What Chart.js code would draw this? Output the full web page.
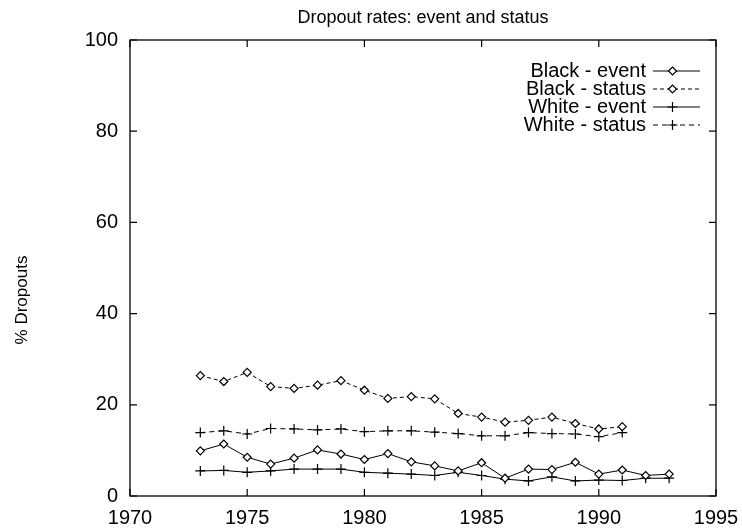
<!DOCTYPE html>
<html>
<head>
<meta charset="utf-8">
<script src="https://cdn.jsdelivr.net/npm/chart.js@4.4.1/dist/chart.umd.min.js"></script>
<style>
  html, body { margin: 0; padding: 0; background: #fff; }
  #wrap { width: 742px; height: 531px; }
</style>
</head>
<body>
<div id="wrap"><canvas id="c" width="742" height="531"></canvas></div>
<script>
const years = [1973,1974,1975,1976,1977,1978,1979,1980,1981,1982,1983,1984,1985,1986,1987,1988,1989,1990,1991,1992,1993];
const blackEvent  = [9.9,11.4,8.5,7.0,8.3,10.1,9.2,8.0,9.3,7.5,6.6,5.5,7.3,3.9,5.9,5.8,7.4,4.8,5.7,4.5,4.8];
const blackStatus = [26.4,25.1,27.1,24.0,23.6,24.3,25.3,23.2,21.4,21.8,21.3,18.1,17.3,16.2,16.6,17.3,15.9,14.7,15.2];
const whiteEvent  = [5.5,5.6,5.2,5.5,5.9,5.9,5.9,5.2,5.0,4.8,4.5,5.2,4.5,3.7,3.3,4.2,3.3,3.5,3.4,3.9,3.9];
const whiteStatus = [13.9,14.3,13.6,14.8,14.7,14.5,14.7,14.1,14.3,14.3,14.0,13.7,13.2,13.2,13.9,13.7,13.6,13.0,13.9];
const seriesNames = ['Black - event','Black - status','White - event','White - status'];
const xTicks = [1970,1975,1980,1985,1990,1995];
const yTicks = [0,20,40,60,80,100];
const titleText = 'Dropout rates: event and status';
const yTitleText = '% Dropouts';

const FONT = "'Liberation Sans', Arial, Helvetica, sans-serif";

function pts(vals){ return vals.map((v,i)=>({x:years[i], y:v})); }

const styles = [
  {pointStyle:'rectRot', dash:[], radius:4},
  {pointStyle:'rectRot', dash:[4,3], radius:4},
  {pointStyle:'cross', dash:[], radius:5},
  {pointStyle:'cross', dash:[5,4], radius:5}
];
const allVals = [blackEvent, blackStatus, whiteEvent, whiteStatus];

const datasets = allVals.map((vals,i)=>({
  label: seriesNames[i],
  data: pts(vals),
  borderColor:'#000',
  backgroundColor:'#fff',
  borderWidth:1,
  borderDash: styles[i].dash,
  pointStyle: styles[i].pointStyle,
  pointRadius: styles[i].radius,
  pointBorderColor:'#000',
  pointBackgroundColor:'#fff',
  pointBorderWidth:1.2,
  tension:0,
  fill:false
}));

const framePlugin = {
  id:'frame',
  afterDraw(chart){
    const {ctx, chartArea:a, scales:{x,y}} = chart;
    ctx.save();
    ctx.strokeStyle='#000';
    ctx.lineWidth=1.3;
    ctx.setLineDash([]);
    ctx.strokeRect(a.left, a.top, a.right-a.left, a.bottom-a.top);
    ctx.lineWidth=1.2;
    const L=7;
    xTicks.forEach(v=>{
      const px = x.getPixelForValue(v);
      ctx.beginPath();
      ctx.moveTo(px, a.bottom); ctx.lineTo(px, a.bottom-L);
      ctx.moveTo(px, a.top); ctx.lineTo(px, a.top+L);
      ctx.stroke();
    });
    yTicks.forEach(v=>{
      const py = y.getPixelForValue(v);
      ctx.beginPath();
      ctx.moveTo(a.left, py); ctx.lineTo(a.left+L, py);
      ctx.moveTo(a.right, py); ctx.lineTo(a.right-L, py);
      ctx.stroke();
    });
    ctx.fillStyle='#000';
    ctx.font = "18px " + FONT;
    ctx.textAlign='center';
    ctx.textBaseline='middle';
    ctx.fillText(titleText, (a.left+a.right)/2, 18);
    ctx.save();
    ctx.translate(22, 300);
    ctx.rotate(-Math.PI/2);
    ctx.font = "17px " + FONT;
    ctx.fillText(yTitleText, 0, 0);
    ctx.restore();
    ctx.font = "20px " + FONT;
    ctx.textAlign='right';
    ctx.textBaseline='middle';
    const ly0 = 71, dy = 18;
    const textRight = a.right - 70, s0 = a.right - 63, s1 = a.right - 16;
    chart.data.datasets.forEach((ds,i)=>{
      const yy = ly0 + i*dy;
      ctx.fillText(ds.label, textRight, yy);
      ctx.save();
      ctx.lineWidth=1;
      ctx.setLineDash(ds.borderDash);
      ctx.beginPath(); ctx.moveTo(s0, yy); ctx.lineTo(s1, yy); ctx.stroke();
      ctx.restore();
      const mx = (s0+s1)/2 - 4;
      ctx.save();
      ctx.fillStyle='#fff'; ctx.strokeStyle='#000'; ctx.lineWidth=1.2;
      Chart.helpers.drawPoint(ctx, {pointStyle: ds.pointStyle, radius: ds.pointRadius, rotation:0, borderWidth:1.2}, mx, yy);
      ctx.restore();
    });
    ctx.restore();
  }
};

new Chart(document.getElementById('c'), {
  type:'line',
  data:{ datasets },
  options:{
    responsive:false,
    animation:false,
    devicePixelRatio:1,
    layout:{ padding:{ left:0, right:26, top:40, bottom:0 } },
    plugins:{
      legend:{ display:false },
      tooltip:{ enabled:false },
      title:{ display:false }
    },
    scales:{
      x:{
        type:'linear',
        min:1970, max:1995,
        afterBuildTicks(s){ s.ticks = xTicks.map(v=>({value:v})); },
        afterFit(s){ s.height = 35; s.paddingLeft = 0; s.paddingRight = 0; },
        grid:{ display:false, drawTicks:false },
        border:{ display:false },
        ticks:{ color:'#000', font:{ family:FONT, size:20 }, padding:10, maxRotation:0,
                callback:(v)=>String(v) }
      },
      y:{
        min:0, max:100,
        afterBuildTicks(s){ s.ticks = yTicks.map(v=>({value:v})); },
        afterFit(s){ s.width = 130; s.paddingTop = 0; s.paddingBottom = 0; },
        grid:{ display:false, drawTicks:false },
        border:{ display:false },
        ticks:{ color:'#000', font:{ family:FONT, size:20 }, padding:12 }
      }
    }
  },
  plugins:[framePlugin]
});
</script>
</body>
</html>
